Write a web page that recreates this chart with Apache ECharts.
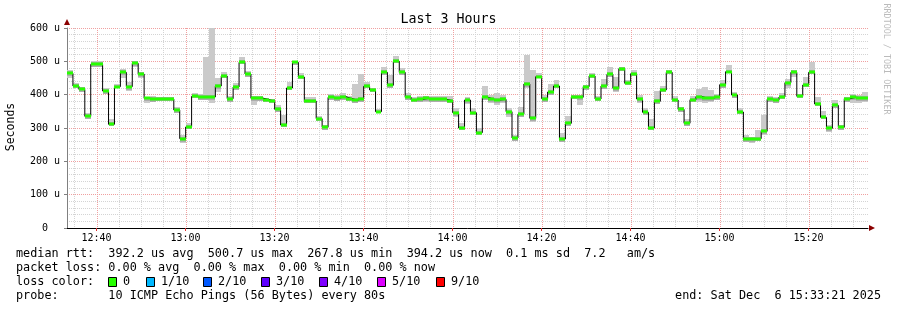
<!DOCTYPE html>
<html>
<head>
<meta charset="utf-8">
<script src="https://cdn.jsdelivr.net/npm/echarts@6/dist/echarts.min.js"></script>
<style>
html,body{margin:0;padding:0;background:#fff;}
#chart{width:897px;height:310px;}
</style>
</head>
<body>
<div id="chart"></div>
<script>
// ---- data (microseconds) ----
const startTime = "12:33:21";
const stepSeconds = 80;
const endTime = "15:33:21";
const xTickLabels = ["12:40","13:00","13:20","13:40","14:00","14:20","14:40","15:00","15:20"];
const yTickValues = [0,100,200,300,400,500,600];

const medians = [464,426,416,335,491,491,411,311,424,467,424,494,462,389,388,388,388,387,354,268,
303,395,393,393,393,426,456,388,423,497,462,389,390,385,381,356,309,420,497,453,
381,381,328,302,392,390,394,388,384,388,425,414,349,467,428,500,467,392,385,386,
389,388,388,386,382,346,300,384,346,286,392,386,384,386,349,270,341,432,329,454,
388,408,426,267,314,393,392,424,456,387,426,461,419,478,434,463,387,347,300,380,
414,467,384,356,314,385,394,390,390,394,430,469,399,348,268,268,268,290,386,383,
393,436,467,395,429,467,372,332,299,368,302,388,392,391,391];

const smokeHigh = [474,434,424,346,502,502,421,327,431,477,439,501,469,394,396,394,394,394,362,279,
314,404,402,514,600,449,467,396,436,512,472,396,396,391,388,369,339,438,502,464,
392,394,336,310,402,399,404,396,432,462,438,419,356,484,458,516,479,406,394,396,
396,396,396,396,397,359,314,392,359,299,426,399,404,399,359,279,362,519,474,464,
399,432,444,284,336,399,399,429,466,396,446,484,454,484,444,474,399,359,326,412,
426,474,396,364,326,396,416,424,414,402,444,489,409,359,279,274,294,339,396,394,
404,446,474,402,454,499,394,352,309,384,309,394,402,399,409];

const smokeLow = [449,419,409,328,484,484,402,307,419,449,412,484,449,374,378,382,382,382,344,254,
296,389,384,384,374,409,449,379,414,491,452,369,382,379,374,349,304,414,489,446,
374,374,322,294,384,382,384,381,374,379,419,408,344,459,419,494,459,384,379,379,
379,379,379,379,376,334,294,372,339,279,384,376,369,374,334,262,334,419,319,449,
379,399,419,259,306,386,369,414,449,382,416,452,409,472,429,456,374,339,294,372,
409,462,379,349,306,379,379,376,379,384,419,464,389,342,259,254,262,279,379,374,
387,419,454,389,424,462,366,326,289,359,294,379,376,374,379];

const lossLabels = ["0","1/10","2/10","3/10","4/10","5/10","9/10"];
const lossColors = ["#26ff00","#00b8ff","#0059ff","#5e00ff","#7e00ff","#dd00ff","#ff0000"];

const statLines = [
  "median rtt:  392.2 us avg  500.7 us max  267.8 us min  394.2 us now  0.1 ms sd  7.2   am/s",
  "packet loss: 0.00 % avg  0.00 % max  0.00 % min  0.00 % now",
  "loss color:",
  "probe:       10 ICMP Echo Pings (56 Bytes) every 80s"
];
const endLine = "end: Sat Dec  6 15:33:21 2025";

// ---- helpers ----
function toSec(s){const p=s.split(':').map(Number);return p[0]*3600+p[1]*60+(p[2]||0);}
function fmt(t){const h=Math.floor(t/3600),m=Math.floor((t%3600)/60);return String(h).padStart(2,'0')+':'+String(m).padStart(2,'0');}
const t0 = toSec(startTime), t1 = toSec(endTime);
const majorTimes = xTickLabels.map(toSec);
const minorTimes = [];
for(let t=Math.ceil(t0/300)*300;t<t1;t+=300){ if(majorTimes.indexOf(t)<0) minorTimes.push(t); }

const stepData = medians.map((m,i)=>[t0+i*stepSeconds, t0+(i+1)*stepSeconds, smokeLow[i], smokeHigh[i], m]);
const linePts = medians.map((m,i)=>[t0+i*stepSeconds, m]);
linePts.push([t0+medians.length*stepSeconds, medians[medians.length-1]]);

const MONO = "DejaVu Sans Mono";
const chart = echarts.init(document.getElementById('chart'), null, {renderer:'canvas'});

function vGrid(color){
  return function(params, api){
    const x = Math.round(api.coord([api.value(0), 0])[0]) + 0.5;
    const top = params.coordSys.y, bottom = params.coordSys.y + params.coordSys.height;
    return {type:'line', shape:{x1:x,y1:top,x2:x,y2:bottom},
      style:{stroke:color, lineWidth:1, lineDash:[1,1]}};
  };
}

const graphics = [
  {type:'text', left:'center', top:13, style:{text:'Last 3 Hours', font:'13.3px '+MONO, fill:'#000'}},
  {type:'text', x:11, y:127, rotation:Math.PI/2, style:{text:'Seconds', font:'11.5px '+MONO, fill:'#000', align:'center', verticalAlign:'middle'}},
  {type:'text', x:886, y:59, rotation:-Math.PI/2, style:{text:'RRDTOOL / TOBI OETIKER', font:'8.4px '+MONO, fill:'#bbbbbb', align:'center', verticalAlign:'middle'}},
  {type:'polygon', shape:{points:[[64,25],[70,25],[67,19]]}, style:{fill:'#8b0000'}},
  {type:'polygon', shape:{points:[[869,225],[869,231],[875,228]]}, style:{fill:'#8b0000'}}
];
statLines.forEach((s,i)=>{
  graphics.push({type:'text', x:16, y:254+i*14, style:{text:s, font:'11.8px '+MONO, fill:'#000', verticalAlign:'middle'}});
});
graphics.push({type:'text', x:881, y:296, style:{text:endLine, font:'11.8px '+MONO, fill:'#000', align:'right', verticalAlign:'middle'}});
const sqX = [108,146,203,261,319,377,436];
lossLabels.forEach((l,i)=>{
  graphics.push({type:'rect', shape:{x:sqX[i]+0.5, y:277.5, width:8, height:9}, style:{fill:lossColors[i], stroke:'#000', lineWidth:1}});
  graphics.push({type:'text', x:sqX[i]+15, y:282, style:{text:l, font:'11.8px '+MONO, fill:'#000', verticalAlign:'middle'}});
});

chart.setOption({
  animation:false,
  backgroundColor:'#ffffff',
  grid:{left:67, right:29, top:28, bottom:82},
  xAxis:{
    type:'value', min:t0, max:t1,
    splitLine:{show:false},
    axisLine:{show:true, lineStyle:{color:'#000', width:1}},
    axisTick:{show:true, customValues:majorTimes, length:3, lineStyle:{color:'#e03030'}},
    axisLabel:{customValues:majorTimes, formatter:v=>fmt(v), fontFamily:MONO, fontSize:10, color:'#000', margin:5}
  },
  yAxis:{
    type:'value', min:0, max:600, interval:100,
    axisLine:{show:true, lineStyle:{color:'#808080'}},
    axisTick:{show:true, length:3, lineStyle:{color:'#808080'}},
    axisLabel:{formatter:v=>v===0?'0  ':v+' u', fontFamily:MONO, fontSize:10, color:'#000', margin:7},
    splitLine:{show:true, lineStyle:{color:'#f0a0a0', type:[1,1]}},
    minorTick:{show:false, splitNumber:5},
    minorSplitLine:{show:true, lineStyle:{color:'#d4d4d4', type:[1,1]}}
  },
  graphic:graphics,
  series:[
    {type:'custom', z:1, silent:true, renderItem:vGrid('#d4d4d4'), data:minorTimes.map(t=>[t]), clip:true},
    {type:'custom', z:1, silent:true, renderItem:vGrid('#f0a0a0'), data:majorTimes.map(t=>[t]), clip:true},
    {type:'custom', z:2, silent:true, clip:true,
      renderItem:function(params, api){
        const a = api.coord([api.value(0), api.value(3)]);
        const b = api.coord([api.value(1), api.value(2)]);
        const c = api.coord([api.value(0), api.value(4)]);
        const x0 = Math.round(a[0]), x1 = Math.round(b[0]);
        const y0 = Math.round(a[1]), y1 = Math.round(b[1]);
        const ym = Math.round(c[1]);
        return {type:'group', children:[
          {type:'rect', shape:{x:x0, y:y0, width:x1-x0, height:Math.max(1,y1-y0)}, style:{fill:'#cacaca'}},
          {type:'rect', shape:{x:x0, y:Math.max(y0,ym-2), width:x1-x0, height:Math.max(0,Math.min(y1,ym+3)-Math.max(y0,ym-2))}, style:{fill:'#acacac'}}
        ]};
      },
      data:stepData},
    {type:'line', z:3, step:'end', symbol:'none', silent:true, data:linePts,
      lineStyle:{color:'#000', width:1}},
    {type:'custom', z:4, silent:true, clip:true,
      renderItem:function(params, api){
        const a = api.coord([api.value(0), api.value(4)]);
        const b = api.coord([api.value(1), api.value(4)]);
        const x0 = Math.round(a[0]), x1 = Math.round(b[0]);
        const y = Math.round(a[1]);
        return {type:'rect', shape:{x:x0, y:y-1.5, width:x1-x0, height:3}, style:{fill:lossColors[0]}};
      },
      data:stepData}
  ]
});
</script>
</body>
</html>
